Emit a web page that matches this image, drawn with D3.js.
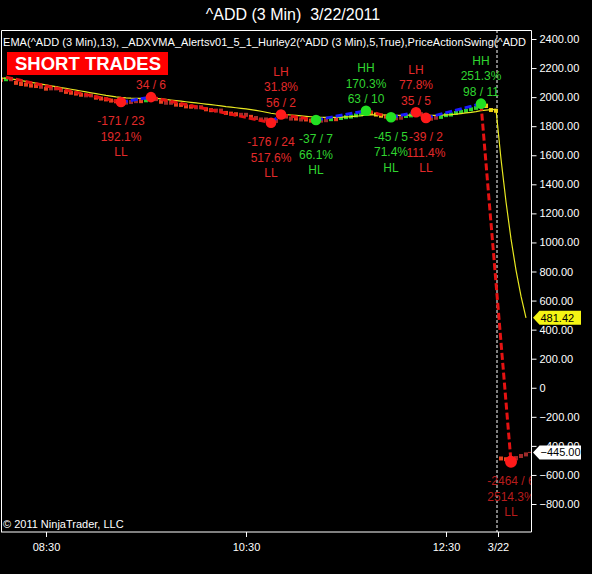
<!DOCTYPE html>
<html><head><meta charset="utf-8">
<script src="https://cdn.jsdelivr.net/npm/d3@7"></script>
<style>html,body{margin:0;padding:0;background:#000;} svg{display:block;font-family:Arial,"Liberation Sans",sans-serif;}</style>
</head><body><svg id="c" width="592" height="574"></svg>
<script>
// ---- data (3-minute ^ADD bars, close values) ----
const closes = [2128,2137,2112,2104,2100,2093,2090,2085,2072,2068,
  2074,2062,2050,2044,2038,2030,2022,2026,2010,2004,
  1998,1990,1985,1978,1966,1976,1980,1986,1984,1992,
  2000,1982,1972,1975,1962,1960,1950,1948,1940,1944,
  1930,1924,1918,1921,1905,1900,1896,1888,1892,1878,
  1870,1855,1860,1840,1824,1850,1880,1862,1866,1858,
  1860,1852,1850,1843,1852,1855,1862,1860,1870,1876,
  1880,1888,1895,1906,1894,1886,1880,1872,1861,1868,
  1872,1884,1888,1896,1875,1857,1865,1872,1878,1890,
  1894,1905,1912,1920,1930,1940,1955,1925,1920,1918,
  -478,-482,-500,-470,-456,-445];
const ema = [2131,2130,2125,2120,2114,2108,2102,2096,2090,2084,
  2078,2072,2066,2060,2054,2048,2042,2036,2030,2024,
  2018,2012,2007,2002,1998,1995,1993,1992,1992,1992,
  1993,1991,1988,1984,1980,1976,1972,1968,1964,1960,
  1956,1952,1948,1944,1940,1935,1931,1927,1923,1919,
  1914,1909,1903,1896,1889,1884,1883,1880,1877,1874,
  1871,1868,1865,1862,1861,1860,1860,1861,1862,1864,
  1866,1869,1872,1876,1878,1878,1878,1877,1875,1874,
  1874,1875,1877,1879,1879,1876,1875,1875,1876,1878,
  1880,1883,1887,1891,1895,1900,1907,1911,1914,1916,
  1574,1280,1024,810,630,481.42];
const sessionStarts = [0, 100];
const sessionBreakIdx = 99.2;

const swingIdx  = [1, 24, 30, 54, 56, 63, 73, 78, 83, 85, 96, 102];
const swingVal  = [2137, 1966, 2000, 1824, 1880, 1843, 1906, 1861, 1896, 1857, 1955, -509];
const swingType = ["H", "LL", "LH", "LL", "LH", "HL", "HH", "HL", "LH", "LL", "HH", "LL"];
const swingSize = ["", "-171 / 23", "34 / 6", "-176 / 24", "56 / 2", "-37 / 7", "63 / 10", "-45 / 5", "35 / 5", "-39 / 2", "98 / 11", "-2464 / 6"];
const swingPct  = ["", "192.1%", "", "517.6%", "31.8%", "66.1%", "170.3%", "71.4%", "77.8%", "111.4%", "251.3%", "2514.3%"];
const swingTag  = ["", "LL", "", "LL", "LH", "HL", "HH", "HL", "LH", "LL", "HH", "LL"]; // LH1 tags hidden behind the box

const yTicks = [2400,2200,2000,1800,1600,1400,1200,1000,800,600,400,200,0,-200,-400,-600,-800];
const xTickIdx = [9, 49, 89, 99.4];
const xTickLabels = ["08:30", "10:30", "12:30", "3/22"];
const lastEma = 481.42, lastClose = -445;

const titleText = "^ADD (3 Min)  3/22/2011";
const headerText = "EMA(^ADD (3 Min),13), _ADXVMA_Alertsv01_5_1_Hurley2(^ADD (3 Min),5,True),PriceActionSwing(^ADD";

// ---- layout ----
const svg = d3.select("#c");
const L = 1, R = 531.5, T = 30, B = 532;
const x = d3.scaleLinear().domain([0, 105]).range([1, 526]);
const y = d3.scaleLinear().domain([-800, 2400]).range([504, 39]);

svg.append("rect").attr("width",592).attr("height",574).attr("fill","#000");
svg.append("defs").append("clipPath").attr("id","plot")
  .append("rect").attr("x",L).attr("y",T).attr("width",R-L).attr("height",B-T);

// title
svg.append("text").attr("x",293).attr("y",20).attr("text-anchor","middle")
  .attr("fill","#fff").attr("font-size","16px").style("white-space","pre").text(titleText);

const plot = svg.append("g").attr("clip-path","url(#plot)");

// session break
plot.append("line").attr("x1",x(sessionBreakIdx)).attr("x2",x(sessionBreakIdx))
  .attr("y1",T).attr("y2",B).attr("stroke","#fff").attr("stroke-dasharray","3,2");

// bars
const bars = closes.map((c,i)=>{
  const o = sessionStarts.includes(i) ? c + 5 : closes[i-1];
  return {i, o, c, e: ema[i]};
});
function barColor(d){
  const dv = d.c - d.o;
  if (d.c >= d.e) return dv > 0 ? "#2bd02b" : "#f0cc10";
  if (dv > 0) return "#9e2a2a";
  return dv < -10 ? "#a8302c" : "#e8421e";
}
plot.selectAll("rect.bar").data(bars).enter().append("rect").attr("class","bar")
  .attr("x", d=>x(d.i)-2).attr("width",4)
  .attr("y", d=>Math.min(y(d.o),y(d.c)))
  .attr("height", d=>Math.max(4, Math.abs(y(d.o)-y(d.c))))
  .attr("fill", barColor);

// EMA
plot.append("path").datum(ema)
  .attr("d", d3.line().x((d,i)=>x(i)).y(d=>y(d)))
  .attr("fill","none").attr("stroke","#e8e820").attr("stroke-width",1.2);

// zigzag
for (let k=1;k<swingIdx.length;k++){
  const isLow = swingType[k]==="LL" || swingType[k]==="HL";
  plot.append("line")
    .attr("x1",x(swingIdx[k-1])).attr("y1",y(swingVal[k-1]))
    .attr("x2",x(swingIdx[k])).attr("y2",y(swingVal[k]))
    .attr("stroke", isLow ? "#e51212" : "#1a1aff")
    .attr("stroke-width",3).attr("stroke-dasharray","7,3");
}

// swing dots + labels
const swings = swingIdx.map((s,k)=>({k, i:s, v:swingVal[k], t:swingType[k], tag:swingTag[k], sz:swingSize[k], p:swingPct[k]})).filter(d=>d.k>0);
const isRed = t => t==="LL" || t==="LH";
plot.selectAll("circle.sw").data(swings).enter().append("circle")
  .attr("cx",d=>x(d.i)).attr("cy",d=>y(d.v)).attr("r",d=>d.k===11?6:5.3)
  .attr("fill",d=>isRed(d.t)?"#ff1a1a":"#22e022");

swings.forEach(d=>{
  const cx = x(d.i), cy = y(d.v);
  const col = d.k===11 ? "#b81c1c" : (isRed(d.t) ? "#e32a2a" : "#30d530");
  const isHigh = d.t==="LH" || d.t==="HH";
  const lines = isHigh ? [d.tag, d.p, d.sz] : [d.sz, d.p, d.tag];
  lines.forEach((s,j)=>{
    if (!s) return;
    const cyT = isHigh ? cy - 12 - (2-j)*15.5 : cy + 19 + j*15.5;
    plot.append("text").attr("x",cx).attr("y",cyT).attr("dy","0.36em")
      .attr("text-anchor","middle").attr("font-size","12px").attr("fill",col).text(s);
  });
});

// SHORT TRADES box
svg.append("rect").attr("x",7).attr("y",52).attr("width",161).attr("height",23).attr("fill","#ff0000");
svg.append("text").attr("x",88).attr("y",70).attr("text-anchor","middle")
  .attr("font-size","18.5px").attr("font-weight","bold").attr("fill","#fff").text("SHORT TRADES");

// header indicator text
svg.append("text").attr("x",3).attr("y",45.5).attr("font-size","11px")
  .attr("textLength",523).attr("lengthAdjust","spacing")
  .attr("fill","#fff").text(headerText);

// copyright
svg.append("text").attr("x",3).attr("y",528).attr("font-size","11px").attr("fill","#fff").text("\u00a9 2011 NinjaTrader, LLC");

// frame
svg.append("path").attr("d",`M${L+0.5},${B} V${T+0.5} H${R} V${B} H${L}`)
  .attr("fill","none").attr("stroke","#fff").attr("stroke-width",1);

// y axis
const yAx = svg.append("g").attr("transform",`translate(${R},0)`)
  .call(d3.axisRight(y).tickValues(yTicks).tickSize(5).tickPadding(3)
    .tickFormat(v => v===0 ? "0" : d3.format(".2f")(v)));
yAx.select(".domain").remove();
yAx.selectAll("line").attr("stroke","#fff");
yAx.selectAll("text").attr("fill","#fff").attr("font-size","11px").attr("font-family","Arial, 'Liberation Sans', sans-serif");

// x axis
const xAx = svg.append("g").attr("transform",`translate(0,${B})`)
  .call(d3.axisBottom(x).tickValues(xTickIdx).tickSize(5).tickPadding(6)
    .tickFormat((v,i)=>xTickLabels[i]));
xAx.select(".domain").remove();
xAx.selectAll("line").attr("stroke","#fff");
xAx.selectAll("text").attr("fill","#fff").attr("font-size","11px").attr("font-family","Arial, 'Liberation Sans', sans-serif");

// last-value markers
function marker(v, fill){
  const yy = y(v);
  svg.append("path").attr("d",`M533,${yy} L539.5,${yy-7} H581 V${yy+7} H539.5 Z`).attr("fill",fill);
  svg.append("text").attr("x",540.5).attr("y",yy).attr("dy","0.36em").attr("font-size","11px").attr("fill","#000")
    .text(d3.format(".2f")(v));
}
plot.append("line").attr("x1",x(105)+2).attr("x2",R).attr("y1",y(lastClose)).attr("y2",y(lastClose))
  .attr("stroke","#a8302c").attr("stroke-dasharray","3,2");
marker(lastEma, "#f5f514");
marker(lastClose, "#ffffff");
</script></body></html>
